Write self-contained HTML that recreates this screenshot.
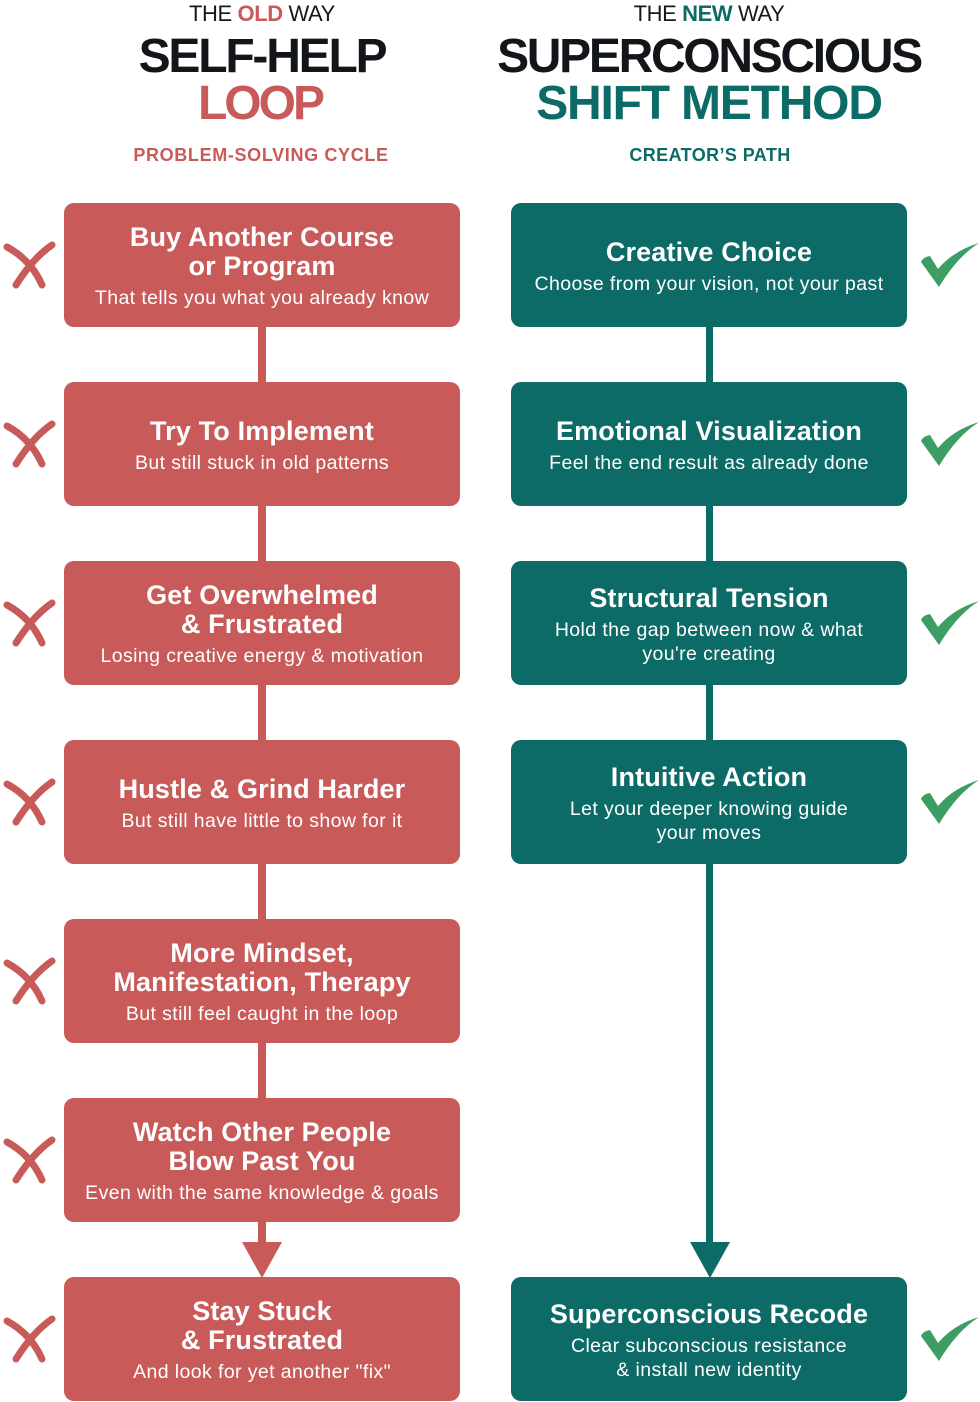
<!DOCTYPE html>
<html>
<head>
<meta charset="utf-8">
<style>
  html, body { margin:0; padding:0; }
  body { width:980px; height:1402px; position:relative; overflow:hidden; background:#ffffff; font-family:"Liberation Sans", Arial, sans-serif; }
  .t { position:absolute; width:600px; text-align:center; white-space:nowrap; }
  .small { font-size:22px; line-height:22px; top:3px; color:#15181d; letter-spacing:-0.4px; }
  .small b { font-weight:700; }
  .big { font-size:48px; line-height:47px; top:33px; font-weight:700; }
  .big div { height:47px; }
  .sub { font-size:18px; line-height:18px; top:146px; font-weight:700; }
  .line { position:absolute; z-index:0; }
  .box { position:absolute; width:396px; height:124px; border-radius:10px; box-sizing:border-box; padding-top:3px;
         display:flex; flex-direction:column; justify-content:center; align-items:center; text-align:center; color:#ffffff; z-index:2; white-space:nowrap; }
  .red { background:#c85b5a; left:64px; }
  .teal { background:#0c6a67; left:511px; }
  .h { font-size:27px; line-height:29px; font-weight:700; letter-spacing:0.15px; }
  .s { font-size:19.5px; line-height:24px; font-weight:400; letter-spacing:0.4px; margin-top:5px; }
  svg.ov { position:absolute; left:0; top:0; z-index:3; }
  svg.under { position:absolute; left:0; top:0; z-index:1; }
</style>
</head>
<body>

<!-- Headers -->
<div class="t small" style="left:-38px;">THE <b style="color:#c85b5a;">OLD</b> WAY</div>
<div class="t big" style="left:-38px;">
  <div style="color:#12151a; letter-spacing:-2.2px;">SELF-HELP</div>
  <div style="color:#c85b5a; letter-spacing:-3px; margin-left:-4px;">LOOP</div>
</div>
<div class="t sub" style="left:-39px; color:#c85b5a; letter-spacing:0.65px;">PROBLEM-SOLVING CYCLE</div>

<div class="t small" style="left:409px;">THE <b style="color:#0c6a67;">NEW</b> WAY</div>
<div class="t big" style="left:409px;">
  <div style="color:#12151a; letter-spacing:-2.3px;">SUPERCONSCIOUS</div>
  <div style="color:#0c6a67; letter-spacing:-1.2px;">SHIFT METHOD</div>
</div>
<div class="t sub" style="left:410px; color:#0c6a67; letter-spacing:0.4px;">CREATOR’S PATH</div>

<!-- Connectors -->
<div class="line" style="left:258px; top:210px; width:8px; height:1034px; background:#c85b5a;"></div>
<div class="line" style="left:706px; top:210px; width:7px; height:1034px; background:#0c6a67;"></div>
<svg class="under" width="980" height="1402" viewBox="0 0 980 1402">
  <polygon points="242,1242 282,1242 262,1278" fill="#c85b5a"/>
  <polygon points="690,1242 730,1242 710,1278" fill="#0c6a67"/>
</svg>

<!-- Left boxes -->
<div class="box red" style="top:203px;">
  <div class="h">Buy Another Course<br>or Program</div>
  <div class="s">That tells you what you already know</div>
</div>
<div class="box red" style="top:382px;">
  <div class="h">Try To Implement</div>
  <div class="s">But still stuck in old patterns</div>
</div>
<div class="box red" style="top:561px;">
  <div class="h">Get Overwhelmed<br>&amp; Frustrated</div>
  <div class="s">Losing creative energy &amp; motivation</div>
</div>
<div class="box red" style="top:740px;">
  <div class="h">Hustle &amp; Grind Harder</div>
  <div class="s">But still have little to show for it</div>
</div>
<div class="box red" style="top:919px;">
  <div class="h">More Mindset,<br>Manifestation, Therapy</div>
  <div class="s">But still feel caught in the loop</div>
</div>
<div class="box red" style="top:1098px;">
  <div class="h">Watch Other People<br>Blow Past You</div>
  <div class="s">Even with the same knowledge &amp; goals</div>
</div>
<div class="box red" style="top:1277px;">
  <div class="h">Stay Stuck<br>&amp; Frustrated</div>
  <div class="s">And look for yet another "fix"</div>
</div>

<!-- Right boxes -->
<div class="box teal" style="top:203px;">
  <div class="h">Creative Choice</div>
  <div class="s">Choose from your vision, not your past</div>
</div>
<div class="box teal" style="top:382px;">
  <div class="h">Emotional Visualization</div>
  <div class="s">Feel the end result as already done</div>
</div>
<div class="box teal" style="top:561px;">
  <div class="h">Structural Tension</div>
  <div class="s">Hold the gap between now &amp; what<br>you're creating</div>
</div>
<div class="box teal" style="top:740px;">
  <div class="h">Intuitive Action</div>
  <div class="s">Let your deeper knowing guide<br>your moves</div>
</div>
<div class="box teal" style="top:1277px;">
  <div class="h">Superconscious Recode</div>
  <div class="s">Clear subconscious resistance<br>&amp; install new identity</div>
</div>

<!-- X marks and checks -->
<svg class="ov" width="980" height="1402" viewBox="0 0 980 1402">
  <defs>
    <g id="x">
      <path d="M7,12 Q31,25 42,50" fill="none" stroke="#c85b5a" stroke-width="7" stroke-linecap="round"/>
      <path d="M52,10 Q33,23 16,50" fill="none" stroke="#c85b5a" stroke-width="7" stroke-linecap="round"/>
    </g>
    <g id="ck">
      <path d="M6,27 Q8,22 15,21 L23,34 Q38,16 64,8 Q42,22 24,52 Z" fill="#3d9e63"/>
    </g>
  </defs>
  <use href="#x" x="0" y="235"/>
  <use href="#x" x="0" y="414"/>
  <use href="#x" x="0" y="593"/>
  <use href="#x" x="0" y="772"/>
  <use href="#x" x="0" y="951"/>
  <use href="#x" x="0" y="1130"/>
  <use href="#x" x="0" y="1309"/>

  <use href="#ck" x="915" y="235"/>
  <use href="#ck" x="915" y="414"/>
  <use href="#ck" x="915" y="593"/>
  <use href="#ck" x="915" y="772"/>
  <use href="#ck" x="915" y="1309"/>
</svg>

</body>
</html>
